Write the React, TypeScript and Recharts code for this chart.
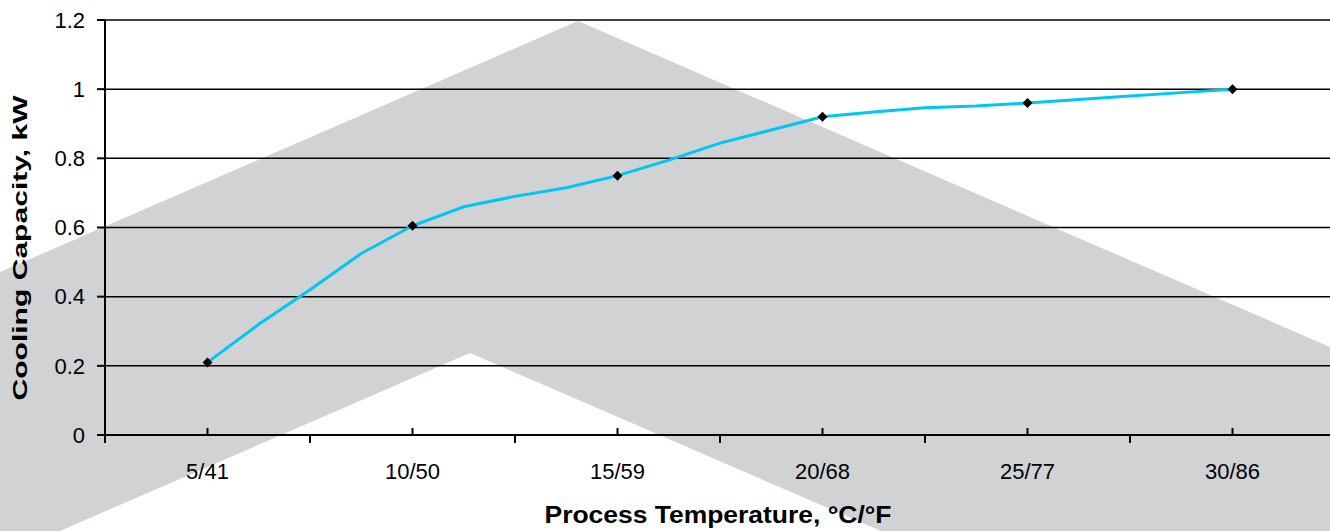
import { LineChart, Line, XAxis, YAxis, CartesianGrid, Label } from 'recharts';

// labelled process temperatures (°C) and their °C/°F tick text
const labelTemps = [5, 10, 15, 20, 25, 30];
const categories = ['5/41', '10/50', '15/59', '20/68', '25/77', '30/86'];
// category boundaries (°C), drawn as outer ticks
const boundaryTemps = [2.5, 7.5, 12.5, 17.5, 22.5, 27.5, 32.5];

// curve samples (°C -> kW)
const curveTemps = [
  5, 6.25, 7.5, 8.75, 10, 11.25, 12.5, 13.75, 15, 16.25, 17.5, 18.75, 20,
  21.25, 22.5, 23.75, 25, 26.25, 27.5, 28.75, 30,
];
const curveValues = [
  0.21, 0.32, 0.42, 0.525, 0.605, 0.66, 0.69, 0.715, 0.75, 0.795, 0.844, 0.882,
  0.92, 0.934, 0.946, 0.951, 0.96, 0.97, 0.98, 0.99, 1.0,
];

const yTicks = [0, 0.2, 0.4, 0.6, 0.8, 1, 1.2];

const data = curveTemps.map((t, i) => ({
  temp: t,
  kw: curveValues[i],
  marker: labelTemps.includes(t),
}));

const FONT = '"Liberation Sans", Arial, sans-serif';

function Diamond(props: any) {
  const { cx, cy, payload, index } = props;
  if (!payload?.marker) return <g key={index} />;
  const r = 5;
  return (
    <polygon
      key={index}
      points={`${cx},${cy - r} ${cx + r},${cy} ${cx},${cy + r} ${cx - r},${cy}`}
      fill="#000"
    />
  );
}

function XTick(props: any) {
  const { x, y, payload } = props;
  const idx = labelTemps.indexOf(payload.value);
  if (idx >= 0) {
    return (
      <g>
        <line x1={x} x2={x} y1={y} y2={y - 7} stroke="#000" strokeWidth={2} />
        <text x={x} y={y + 44} textAnchor="middle" fontSize={22} fill="#000" fontFamily={FONT}>
          {categories[idx]}
        </text>
      </g>
    );
  }
  return <line x1={x} x2={x} y1={y} y2={y + 8} stroke="#000" strokeWidth={2} />;
}

function Watermark() {
  return (
    <svg
      width={1330}
      height={531}
      style={{ position: 'absolute', left: 0, top: 0 }}
    >
      <polygon
        points="0,272 578,21 1330,347 1330,531 881,531 470,353 0,557"
        fill="#d1d2d4"
      />
    </svg>
  );
}

export default function App() {
  return (
    <div
      style={{
        position: 'absolute',
        left: 0,
        top: 0,
        width: 1330,
        height: 531,
        overflow: 'hidden',
        background: '#fff',
      }}
    >
      <Watermark />
      <div style={{ position: 'absolute', left: 0, top: 0 }}>
        <LineChart
          width={1335}
          height={531}
          data={data}
          margin={{ top: 20, right: 0, bottom: 0, left: 0 }}
        >
          <CartesianGrid horizontal vertical={false} stroke="#000" strokeWidth={1.5} />
          <XAxis
            dataKey="temp"
            type="number"
            domain={[2.5, 32.5]}
            ticks={[...boundaryTemps, ...labelTemps]}
            interval={0}
            height={96}
            tickSize={0}
            tickMargin={0}
            tickLine={false}
            tick={<XTick />}
            axisLine={{ stroke: '#000', strokeWidth: 2 }}
          >
            <Label
              content={() => (
                <text
                  x={718}
                  y={523}
                  textAnchor="middle"
                  fontSize={23}
                  fontWeight="bold"
                  fontFamily={FONT}
                  fill="#000"
                  textLength={347}
                  lengthAdjust="spacingAndGlyphs"
                >
                  Process Temperature, °C/°F
                </text>
              )}
            />
          </XAxis>
          <YAxis
            type="number"
            domain={[0, 1.2]}
            ticks={yTicks}
            interval={0}
            width={105}
            tickSize={8}
            tickMargin={12}
            tickLine={{ stroke: '#000', strokeWidth: 2 }}
            axisLine={{ stroke: '#000', strokeWidth: 2 }}
            tick={{ fill: '#000', fontSize: 22, fontFamily: FONT }}
          >
            <Label
              content={() => (
                <text
                  x={27}
                  y={248}
                  transform="rotate(-90, 27, 248)"
                  textAnchor="middle"
                  fontSize={20}
                  fontWeight="bold"
                  fontFamily={FONT}
                  fill="#000"
                  textLength={305}
                  lengthAdjust="spacingAndGlyphs"
                >
                  Cooling Capacity, kW
                </text>
              )}
            />
          </YAxis>
          <Line
            type="linear"
            dataKey="kw"
            stroke="#00c6f2"
            strokeWidth={3}
            dot={<Diamond />}
            activeDot={false}
            isAnimationActive={false}
          />
        </LineChart>
      </div>
    </div>
  );
}
